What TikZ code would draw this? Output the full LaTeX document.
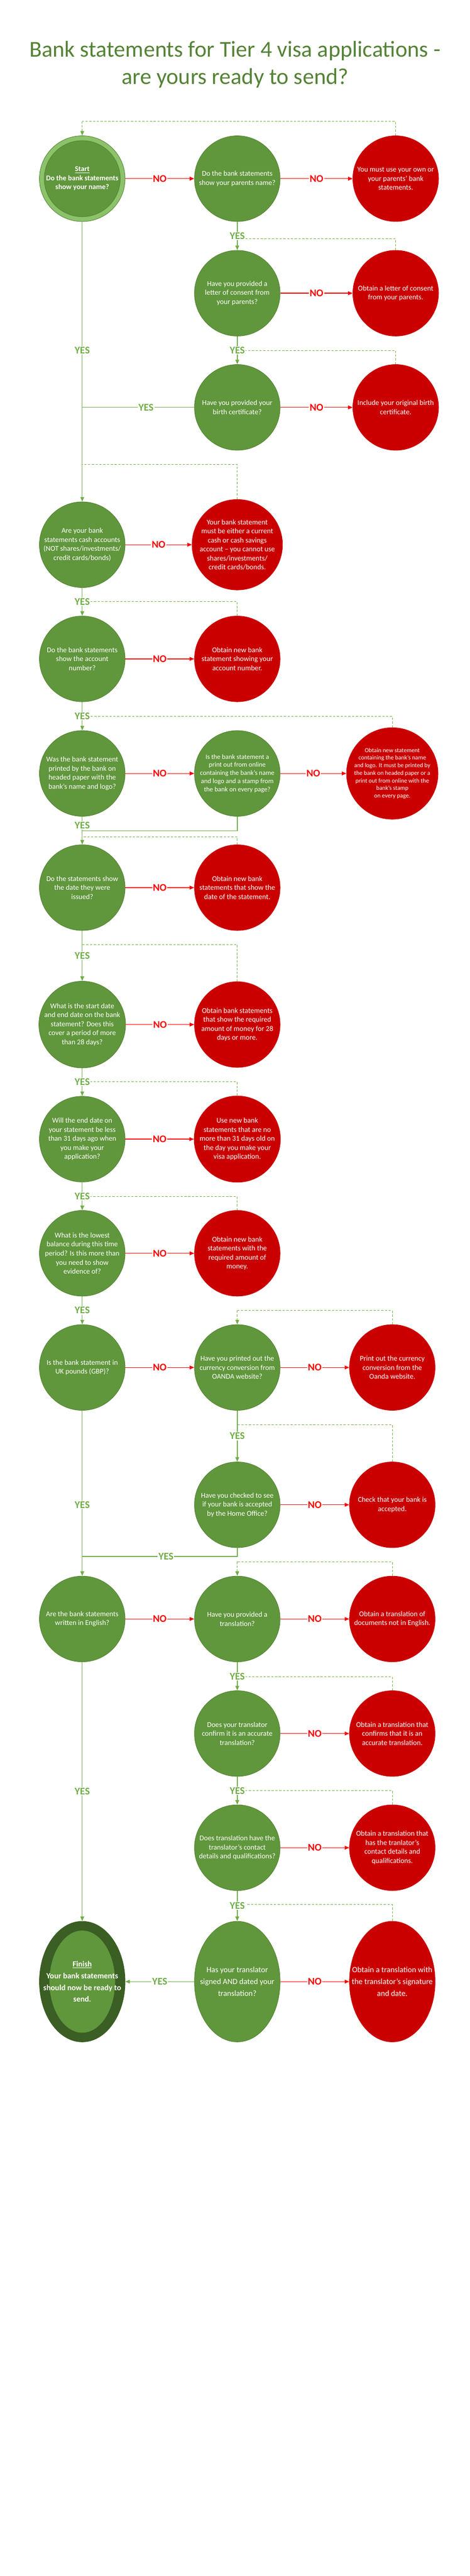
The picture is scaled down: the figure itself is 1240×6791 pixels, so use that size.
\documentclass[tikz,border=0pt]{standalone}
\usepackage{fontspec}
\setmainfont{Carlito}
\usepackage{xcolor}
\usetikzlibrary{arrows.meta,positioning,shapes.geometric}

\definecolor{askgreen}{RGB}{96,150,60}
\definecolor{askedge}{RGB}{84,132,52}
\definecolor{failred}{RGB}{202,0,0}
\definecolor{linegreen}{RGB}{112,173,71}
\definecolor{linered}{RGB}{255,0,0}
\definecolor{ringlight}{RGB}{139,194,106}
\definecolor{ringdark}{RGB}{58,94,35}
\definecolor{titlegreen}{RGB}{84,130,53}

\tikzset{
  ask/.style={circle,fill=askgreen,draw=askedge,line width=0.6pt,minimum size=113pt,
    inner sep=0pt,text=white,align=center,font=\fontsize{9.6}{11.9}\selectfont},
  fail/.style={ask,fill=failred,draw=failred},
  tall/.style={shape=ellipse,minimum width=113pt,minimum height=159pt,inner xsep=-17pt,font=\fontsize{10.5}{15.5}\selectfont},
  noline/.style={color=linered,line width=0.9pt,-{Triangle[length=6pt,width=5pt]}},
  yesline/.style={color=linegreen,line width=0.9pt,-{Triangle[length=6pt,width=5pt]}},
  yesjoin/.style={color=linegreen,line width=0.9pt},
  back/.style={color=linegreen,line width=0.7pt,dash pattern=on 3pt off 2pt},
  nolab/.style={fill=white,text=linered,inner sep=1pt,font=\fontsize{13.5}{14}\selectfont\bfseries},
  yeslab/.style={nolab,text=linegreen}
}

\begin{document}
\begin{tikzpicture}[x=0.5pt,y=-0.5pt,node distance=204.5pt,on grid]
\useasboundingbox (0,0) rectangle (1240,6791);

\node[text=titlegreen,align=center,font=\fontsize{30}{36.5}\selectfont] (title) at (620,170)
  {Bank statements for Tier 4 visa applications -\\are yours ready to send?};

% first block
\node[ask,fill=ringlight,draw=askedge] (q1) at (217,471) {};
\node[ask,minimum size=91pt,font=\fontsize{9.6}{11.9}\selectfont\bfseries] (q1in) at (q1)
  {\underline{Start}\\Do the bank statements\\show your name?};
\node[ask] (q2) [right=of q1] {Do the bank statements\\show your parents name?};
\node[fail] (f1) [right=209pt of q2] {You must use your own or\\your parents’ bank\\statements.};
\node[ask] (q3) at (626,773) {Have you provided a\\letter of consent from\\your parents?};
\node[fail] (f2) [right=209pt of q3] {Obtain a letter of consent\\from your parents.};
\node[ask] (q4) at (626,1074) {Have you provided your\\birth certificate?};
\node[fail] (f3) [right=209pt of q4] {Include your original birth\\certificate.};

% main column
\node[ask] (q5) at (217,1436) {Are your bank\\statements cash accounts\\(NOT shares/investments/\\credit cards/bonds)};
\node[fail] (f4) [right=of q5] {Your bank statement\\must be either a current\\cash or cash savings\\account – you cannot use\\shares/investments/\\credit cards/bonds.};
\node[ask] (q6) at (217,1737) {Do the bank statements\\show the account\\number?};
\node[fail] (f5) [right=of q6] {Obtain new bank\\statement showing your\\account number.};
\node[ask] (q7) at (217,2039) {Was the bank statement\\printed by the bank on\\headed paper with the\\bank’s name and logo?};
\node[ask,font=\fontsize{8.8}{10.7}\selectfont] (q8) [right=of q7] {Is the bank statement a\\print out from online\\containing the bank’s name\\and logo and a stamp from\\the bank on every page?};
\node[fail,font=\fontsize{8}{10}\selectfont] (f6) [right=of q8] {Obtain new statement\\containing the bank’s name\\and logo. It must be printed by\\the bank on headed paper or a\\print out from online with the\\bank’s stamp\\on every page.};
\node[ask] (q9) at (217,2340) {Do the statements show\\the date they were\\issued?};
\node[fail] (f7) [right=of q9] {Obtain new bank\\statements that show the\\date of the statement.};
\node[ask] (q10) at (217,2701) {What is the start date\\and end date on the bank\\statement? Does this\\cover a period of more\\than 28 days?};
\node[fail] (f8) [right=of q10] {Obtain bank statements\\that show the required\\amount of money for 28\\days or more.};
\node[ask] (q11) at (217,3003) {Will the end date on\\your statement be less\\than 31 days ago when\\you make your\\application?};
\node[fail] (f9) [right=of q11] {Use new bank\\statements that are no\\more than 31 days old on\\the day you make your\\visa application.};
\node[ask] (q12) at (217,3304) {What is the lowest\\balance during this time\\period? Is this more than\\you need to show\\evidence of?};
\node[fail] (f10) [right=of q12] {Obtain new bank\\statements with the\\required amount of\\money.};
\node[ask] (q13) at (217,3605) {Is the bank statement in\\UK pounds (GBP)?};
\node[ask] (q14) [right=of q13] {Have you printed out the\\currency conversion from\\OANDA website?};
\node[fail] (f11) [right=of q14] {Print out the currency\\conversion from the\\Oanda website.};
\node[ask] (q15) at (626,3967) {Have you checked to see\\if your bank is accepted\\by the Home Office?};
\node[fail] (f12) [right=of q15] {Check that your bank is\\accepted.};
\node[ask] (q16) at (217,4268) {Are the bank statements\\written in English?};
\node[ask] (q17) [right=of q16] {Have you provided a\\translation?};
\node[fail] (f13) [right=of q17] {Obtain a translation of\\documents not in English.};
\node[ask] (q18) at (626,4570) {Does your translator\\confirm it is an accurate\\translation?};
\node[fail] (f14) [right=of q18] {Obtain a translation that\\confirms that it is an\\accurate translation.};
\node[ask] (q19) at (626,4871) {Does translation have the\\translator’s contact\\details and qualifications?};
\node[fail] (f15) [right=of q19] {Obtain a translation that\\has the tranlator’s\\contact details and\\qualifications.};
\node[ask,tall] (q20) at (626,5224) {Has your translator\\signed AND dated your\\translation?};
\node[fail,tall] (f16) [right=of q20] {Obtain a translation with\\the translator’s signature\\and date.};
\node[ask,tall,fill=ringdark,draw=ringdark] (fin) at (217,5224) {};
\node[ask,tall,minimum width=86pt,minimum height=134pt,inner xsep=-22pt,draw=askgreen,font=\fontsize{10.5}{15.5}\selectfont\bfseries] (finin) at (fin)
  {\underline{Finish}\\Your bank statements\\should now be ready to\\send.};

% junctions of the dashed returns
\coordinate (j1) at (217,320);
\coordinate (j2) at (626,630);
\coordinate (j3) at (626,924);
\coordinate (j4) at (217,1224);
\coordinate (j5) at (217,1586);
\coordinate (j6) at (217,1888);
\coordinate (j7) at (217,2206);
\coordinate (j8) at (217,2490);
\coordinate (j9) at (217,2852);
\coordinate (j10) at (217,3154);
\coordinate (j11) at (626,3455);
\coordinate (j12) at (626,3756);
\coordinate (j13) at (626,4117);
\coordinate (j14) at (626,4420);
\coordinate (j15) at (626,4720);
\coordinate (j16) at (626,5021);
\coordinate (m1) at (217,2190);
\coordinate (m2) at (217,4103);

\draw[back] (f1.north) |- (j1);
\draw[back,-{Triangle[length=6pt,width=5pt]}] (j1) -- (q1.north);
\draw[back] (f2.north) |- (j2);
\draw[back] (f3.north) |- (j3);
\draw[back] (f4.north) |- (j4);
\draw[back] (f5.north) |- (j5);
\draw[back] (f6.north) |- (j6);
\draw[back] (f7.north) |- (j7);
\draw[back] (f8.north) |- (j8);
\draw[back] (f9.north) |- (j9);
\draw[back] (f10.north) |- (j10);
\draw[back] (f11.north) |- (j11);
\draw[back,-{Triangle[length=6pt,width=5pt]}] (j11) -- (q14.north);
\draw[back] (f12.north) |- (j12);
\draw[back] (f13.north) |- (j13);
\draw[back,-{Triangle[length=6pt,width=5pt]}] (j13) -- (q17.north);
\draw[back] (f14.north) |- (j14);
\draw[back] (f15.north) |- (j15);
\draw[back] (f16.north) |- (j16);

\path[noline]
  (q1) edge node[nolab] {NO} (q2)
  (q2) edge node[nolab] {NO} (f1)
  (q3) edge node[nolab] {NO} (f2)
  (q4) edge node[nolab] {NO} (f3)
  (q5) edge node[nolab] {NO} (f4)
  (q6) edge node[nolab] {NO} (f5)
  (q7) edge node[nolab] {NO} (q8)
  (q8) edge node[nolab] {NO} (f6)
  (q9) edge node[nolab] {NO} (f7)
  (q10) edge node[nolab] {NO} (f8)
  (q11) edge node[nolab] {NO} (f9)
  (q12) edge node[nolab] {NO} (f10)
  (q13) edge node[nolab] {NO} (q14)
  (q14) edge node[nolab] {NO} (f11)
  (q15) edge node[nolab] {NO} (f12)
  (q16) edge node[nolab] {NO} (q17)
  (q17) edge node[nolab] {NO} (f13)
  (q18) edge node[nolab] {NO} (f14)
  (q19) edge node[nolab] {NO} (f15)
  (q20) edge node[nolab] {NO} (f16);

\path[yesline]
  (q2) edge node[yeslab] {YES} (q3)
  (q3) edge node[yeslab] {YES} (q4)
  (q1) edge node[yeslab,pos=0.46] {YES} (q5)
  (q5) edge node[yeslab] {YES} (q6)
  (q6) edge node[yeslab] {YES} (q7)
  (q7) edge node[yeslab,pos=0.32] {YES} (q9)
  (q9) edge node[yeslab] {YES} (q10)
  (q10) edge node[yeslab] {YES} (q11)
  (q11) edge node[yeslab] {YES} (q12)
  (q12) edge node[yeslab] {YES} (q13)
  (q14) edge node[yeslab] {YES} (q15)
  (q13) edge node[yeslab,pos=0.57] {YES} (q16)
  (q17) edge node[yeslab] {YES} (q18)
  (q18) edge node[yeslab] {YES} (q19)
  (q19) edge node[yeslab] {YES} (q20)
  (q16) edge node[yeslab] {YES} (fin)
  (q20) edge node[yeslab] {YES} (fin);

\draw[yesjoin] (q4.west) -- node[yeslab,pos=0.43] {YES} (q4.west -| q1);
\draw[yesjoin] (q8.south) |- (m1);
\draw[yesjoin] (q15.south) |- node[yeslab,pos=0.73] {YES} (m2);
\end{tikzpicture}
\end{document}
